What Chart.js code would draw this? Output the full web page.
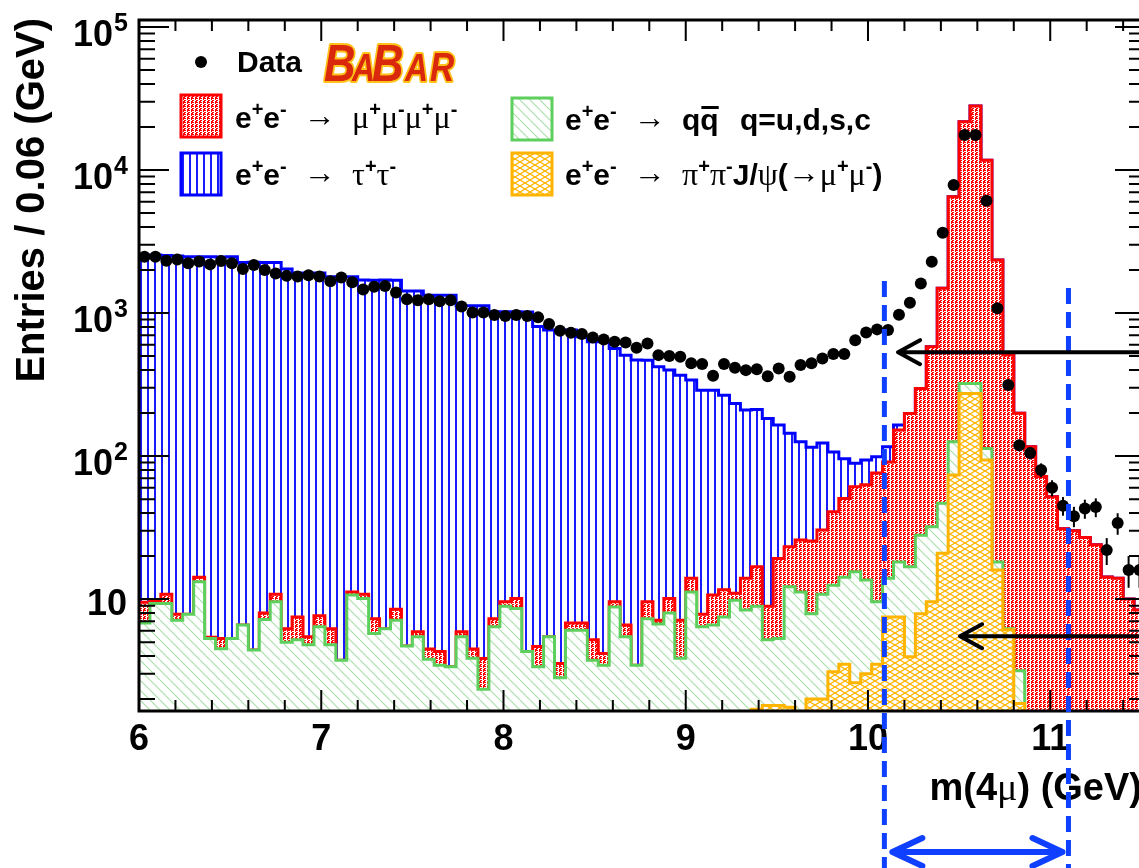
<!DOCTYPE html>
<html>
<head>
<meta charset="utf-8">
<title>m(4mu) BaBar</title>
<script src="https://cdn.jsdelivr.net/npm/chart.js@4.4.1/dist/chart.umd.min.js"></script>
<style>
  html, body { margin: 0; padding: 0; background: #fff; overflow: hidden; }
  #wrap { width: 1160px; height: 868px; }
</style>
</head>
<body>
<div id="wrap"><canvas id="chart" width="1160" height="868"></canvas></div>
<script>
// binning: 92 bins of 0.06 GeV starting at 6 GeV
const binStart = 6.0;
const binWidth = 0.06;

const dataCounts = [
  2480, 2480, 2320, 2370, 2230, 2290, 2190, 2310, 2230, 2030,
  2170, 2000, 1890, 1820, 1800, 1840, 1800, 1670, 1770, 1640,
  1460, 1530, 1545, 1390, 1250, 1230, 1250, 1210, 1230, 1110,
  1010, 1010, 970, 955, 968, 953, 933, 838, 752, 729,
  713, 676, 654, 630, 623, 572, 613, 508, 500, 495,
  445, 440, 364, 440, 415, 399, 404, 362, 410, 359,
  433, 445, 482, 517, 517, 645, 731, 769, 761, 972,
  1181, 1610, 2286, 3645, 7855, 17580, 17580, 6100, 1080, 314,
  119, 105, 80, 60, 45, 38, 43, 44, 22, 34,
  16, 16
];

const tauTau = [
  2535, 2535, 2520, 2500, 2470, 2460, 2470, 2465, 2470, 2250,
  2260, 2250, 2245, 2025, 1900, 1895, 1895, 1790, 1790, 1785,
  1690, 1690, 1695, 1690, 1420, 1420, 1330, 1330, 1330, 1120,
  1120, 1120, 1015, 1010, 1010, 1015, 800, 755, 757, 755,
  676, 625, 626, 556, 501, 466, 459, 414, 389, 361,
  326, 281, 278, 255, 222, 196, 195, 174, 146, 121,
  100, 90, 93, 66, 45, 28, 31, 23, 25, 13,
  0, 0, 0, 0, 0, 0, 0, 0, 0, 0,
  0, 0, 0, 0, 0, 0, 0, 0, 0, 0,
  0, 0
];

const fourMu = [
  2.7, 0.4, 1.5, 0.75, 0, 1.0, 0.1, 0.8, 0, 0,
  0, 0.8, 1.2, 1.2, 2.3, 0.65, 1.25, 1.4, 0, 0.5,
  0.7, 1.55, 0, 1.4, 0, 0.45, 0.67, 0.85, 0, 0.45,
  0.62, 1.5, 0.9, 0.7, 1.5, 0, 1.3, 0, 0.73, 0.75,
  0.75, 1.46, 0.72, 0.8, 1.15, 0, 2.3, 0.4, 2.1, 3.25,
  2.8, 1.45, 4.1, 4.1, 1.2, 5.6, 7.9, 3.7, 13.9, 11,
  14.7, 17.6, 19.6, 28.3, 36.4, 45.5, 49.4, 66.4, 77, 134,
  182, 269, 549, 1443, 6374, 21478, 27678, 11587, 2332, 502,
  196, 116, 72, 52, 31, 30, 27, 24, 14.3, 14,
  10, 8.4
];

const qqbar = [
  6.8, 9.3, 9.3, 7.1, 7.85, 13.2, 5.3, 4.5, 5.3, 6.6,
  4.4, 7.2, 9.6, 5.0, 5.2, 4.8, 6.4, 4.8, 3.74, 10.7,
  10.1, 5.75, 6.2, 7.1, 4.7, 5.45, 3.8, 3.45, 3.36, 5.45,
  3.85, 2.34, 6.4, 8.9, 8.6, 4.3, 3.36, 5.45, 2.82, 6.05,
  6.05, 3.74, 3.45, 8.8, 5.45, 3.45, 7.3, 6.7, 8.0, 3.85,
  11.2, 6.4, 6.6, 7.5, 9.8, 8.4, 7.2, 3.4, 3.5, 10.45,
  9.7, 5.9, 8.8, 9.4, 10.7, 12.9, 10.6, 6.1, 6.5, 10.7,
  12.85, 20.1, 22.4, 25.8, 52.4, 48, 48, 19, 2.2, 0.1,
  1.3, 0, 0, 0, 0, 0, 0, 0, 0, 0,
  0, 0
];

const jpsiPiPi = [
  0, 0, 0, 0, 0, 0, 0, 0, 0, 0,
  0, 0, 0, 0, 0, 0, 0, 0, 0, 0,
  0, 0, 0, 0, 0, 0, 0, 0, 0, 0,
  0, 0, 0, 0, 0, 0, 0, 0, 0, 0,
  0, 0, 0, 0, 0, 0, 0, 0, 0, 0,
  0, 0, 0, 0, 0, 0, 1.7, 1.8, 1.8, 1.75,
  1.5, 2.0, 2.0, 3.1, 3.5, 2.6, 3.0, 3.5, 7.5, 7.5,
  3.95, 7.9, 9.6, 20.9, 73.6, 274, 274, 94, 16, 6.1,
  1.86, 0, 0, 0, 0, 0, 0, 0, 0, 0,
  0, 0
];

const xTicks = [6, 7, 8, 9, 10, 11];
const yTicks = [10, 100, 1000, 10000, 100000];
const yTickExp = ['', '2', '3', '4', '5'];

// mass window and arrows (GeV / entries)
const windowLo = 10.09;
const windowHi = 11.10;
const arrowUpper = { x: 10.165, y: 533 };
const arrowLower = { x: 10.505, y: 5.5 };

const SANS = '"Liberation Sans", Arial, Helvetica, sans-serif';
const SERIF = '"Liberation Serif", "Times New Roman", serif';

function stack(...series) {
  return series[0].map((_, i) => series.reduce((s, a) => s + a[i], 0));
}

function histPoints(vals) {
  const pts = vals.map((v, i) => ({ x: binStart + binWidth * i, y: v > 0 ? v : 1e-3 }));
  const last = vals[vals.length - 1];
  pts.push({ x: binStart + binWidth * vals.length, y: last > 0 ? last : 1e-3 });
  return pts;
}

const cumJ = stack(jpsiPiPi);
const cumQ = stack(jpsiPiPi, qqbar);
const cumM = stack(jpsiPiPi, qqbar, fourMu);
const cumT = stack(jpsiPiPi, qqbar, fourMu, tauTau);

const ctx0 = document.getElementById('chart').getContext('2d');

function makePattern(w, h, draw) {
  const c = document.createElement('canvas');
  c.width = w; c.height = h;
  const g = c.getContext('2d');
  g.fillStyle = '#fff';
  g.fillRect(0, 0, w, h);
  draw(g, w, h);
  return ctx0.createPattern(c, 'repeat');
}

const patBlue = makePattern(7, 2, g => { g.fillStyle = '#1a1aff'; g.fillRect(0, 0, 2, 2); });
const patRed = makePattern(4, 4, g => {
  g.fillStyle = '#ff0000';
  g.fillRect(0, 0, 1, 3);
  g.fillRect(1, 0, 1, 1);
  g.fillRect(1, 2, 1, 1);
  g.fillRect(3, 1, 1, 3);
});
const patGreen = makePattern(10, 10, (g, w, h) => {
  g.strokeStyle = '#a8dea8'; g.lineWidth = 1.1;
  for (const x0 of [-w, 0, w]) { g.beginPath(); g.moveTo(x0, 0); g.lineTo(x0 + w, h); g.stroke(); }
});
const patOrange = makePattern(10, 6, (g, w, h) => {
  g.strokeStyle = '#ffb400'; g.lineWidth = 1.2;
  for (const x0 of [-w, 0, w]) {
    g.beginPath(); g.moveTo(x0, 0); g.lineTo(x0 + w, h); g.stroke();
    g.beginPath(); g.moveTo(x0, h); g.lineTo(x0 + w, 0); g.stroke();
  }
});

const colBlue = '#0000ff';
const colRed = '#ff0000';
const colGreen = '#5ccf5c';
const colOrange = '#ffb400';

function histDataset(label, vals, border, pattern, order) {
  return {
    label: label,
    data: histPoints(vals),
    stepped: true,
    borderColor: border,
    backgroundColor: pattern,
    borderWidth: 3,
    pointRadius: 0,
    fill: 'start',
    order: order
  };
}

// rich text: tokens of [text, font, dy]
function richWidth(ctx, tokens) {
  let w = 0;
  tokens.forEach(([t, f]) => { ctx.font = f; w += ctx.measureText(t).width; });
  return w;
}
function rich(ctx, x, y, tokens) {
  let cx = x;
  const marks = [];
  tokens.forEach(([t, f, dy]) => {
    ctx.font = f;
    marks.push(cx);
    ctx.fillText(t, cx, y + (dy || 0));
    cx += ctx.measureText(t).width;
  });
  return marks;
}

const N = 'bold 30px ' + SANS;
const S = 'bold 20px ' + SANS;
const G = '32px ' + SERIF;
const A = '32px ' + SERIF;
const eePlus = [['e', N], ['+', S, -12], ['e', N], ['-', S, -12], ['  ', N], ['\u2192', A, -2], ['  ', N]];

const rootPlugin = {
  id: 'rootStyle',
  beforeDatasetDraw(chart, args) {
    if (args.index !== 0) return;
    const { ctx, scales: { x, y } } = chart;
    ctx.save();
    ctx.strokeStyle = '#000';
    ctx.lineWidth = 2;
    dataCounts.forEach((n, i) => {
      const e = Math.sqrt(n);
      const px = x.getPixelForValue(binStart + binWidth * (i + 0.5));
      ctx.beginPath();
      ctx.moveTo(px, y.getPixelForValue(n + e));
      ctx.lineTo(px, y.getPixelForValue(Math.max(n - e, 1e-3)));
      ctx.stroke();
    });
    ctx.restore();
  },
  afterDatasetsDraw(chart) {
    const { ctx, chartArea: a, scales: { x, y } } = chart;
    ctx.save();
    ctx.strokeStyle = '#000';
    ctx.lineWidth = 2;
    // x ticks, bottom and top, pointing inward
    for (let k = 0; k <= 27; k++) {
      const v = binStart + 0.2 * k;
      const px = x.getPixelForValue(v);
      const len = k % 5 === 0 ? 21 : 11;
      ctx.beginPath();
      ctx.moveTo(px, a.bottom); ctx.lineTo(px, a.bottom - len);
      ctx.moveTo(px, a.top); ctx.lineTo(px, a.top + len);
      ctx.stroke();
    }
    // y ticks (log), left and right
    for (let d = 0; d <= 5; d++) {
      for (let m = 1; m <= 9; m++) {
        const v = m * Math.pow(10, d);
        if (v < y.min || v > y.max) continue;
        const py = y.getPixelForValue(v);
        const len = m === 1 ? 30 : 16;
        ctx.beginPath();
        ctx.moveTo(a.left, py); ctx.lineTo(a.left + len, py);
        ctx.moveTo(a.right, py); ctx.lineTo(a.right - len, py);
        ctx.stroke();
      }
    }
    ctx.lineWidth = 3;
    ctx.strokeRect(a.left, a.top, a.right - a.left, a.bottom - a.top);
    ctx.restore();
  },
  afterDraw(chart) {
    const { ctx, scales: { x, y } } = chart;
    ctx.save();
    ctx.fillStyle = '#000';
    ctx.textBaseline = 'alphabetic';

    // x tick labels
    ctx.font = 'bold 36px ' + SANS;
    ctx.textAlign = 'center';
    xTicks.forEach(t => ctx.fillText(String(t), x.getPixelForValue(t), 750));

    // y tick labels 10^n
    yTicks.forEach((t, i) => {
      const py = y.getPixelForValue(t);
      const ex = yTickExp[i];
      if (ex) {
        ctx.font = 'bold 25px ' + SANS;
        const sw = ctx.measureText(ex).width;
        ctx.textAlign = 'left';
        ctx.fillText(ex, 128 - sw, py + 4);
        ctx.font = 'bold 36px ' + SANS;
        ctx.textAlign = 'right';
        ctx.fillText('10', 128 - sw - 1, py + 19);
      } else {
        ctx.font = 'bold 36px ' + SANS;
        ctx.textAlign = 'right';
        ctx.fillText('10', 127, py + 16);
      }
    });

    // axis titles
    ctx.textAlign = 'left';
    const xt = [['m(4', 'bold 38px ' + SANS], ['\u03bc', '38px ' + SERIF], [') (GeV)', 'bold 38px ' + SANS]];
    rich(ctx, 1142 - richWidth(ctx, xt), 800, xt);

    ctx.save();
    ctx.translate(44, 18);
    ctx.rotate(-Math.PI / 2);
    ctx.textAlign = 'right';
    ctx.font = 'bold 40px ' + SANS;
    ctx.fillText('Entries / 0.06 (GeV)', 0, 0);
    ctx.restore();

    // legend
    ctx.textAlign = 'left';
    ctx.beginPath();
    ctx.arc(201, 62, 6, 0, Math.PI * 2);
    ctx.fill();
    ctx.font = N;
    ctx.fillText('Data', 237, 72);

    const box = (bx, by, pat, col) => {
      ctx.fillStyle = pat;
      ctx.fillRect(bx, by, 40, 42);
      ctx.strokeStyle = col;
      ctx.lineWidth = 3;
      ctx.strokeRect(bx, by, 40, 42);
      ctx.fillStyle = '#000';
    };
    box(181, 95, patRed, colRed);
    box(181, 153, patBlue, colBlue);
    box(512, 98, patGreen, colGreen);
    box(512, 153, patOrange, colOrange);

    rich(ctx, 235, 128, eePlus.concat([
      ['\u03bc', G], ['+', S, -12], ['\u03bc', G], ['-', S, -12],
      ['\u03bc', G], ['+', S, -12], ['\u03bc', G], ['-', S, -12]]));
    rich(ctx, 235, 185, eePlus.concat([
      ['\u03c4', G], ['+', S, -12], ['\u03c4', G], ['-', S, -12]]));
    const qm = rich(ctx, 565, 130, eePlus.concat([['q', N], ['q', N]]));
    ctx.font = N;
    const qx = qm[qm.length - 1];
    const qw = ctx.measureText('q').width;
    ctx.fillRect(qx + 1, 106, qw - 1, 3);
    ctx.fillText('q=u,d,s,c', 740, 130);
    rich(ctx, 565, 185, eePlus.concat([
      ['\u03c0', G], ['+', S, -12], ['\u03c0', G], ['-', S, -12],
      ['J/', N], ['\u03c8', G], ['(', N], ['\u2192', A, -2],
      ['\u03bc', G], ['+', S, -12], ['\u03bc', G], ['-', S, -12], [')', N]]));

    // BaBar logo
    const logo = [['B', 52, 324], ['A', 38, 352], ['B', 52, 372], ['A', 38, 405], ['R', 40, 430]];
    ctx.lineJoin = 'round';
    logo.forEach(([ch, sz, lx]) => {
      ctx.font = 'italic bold ' + sz + 'px ' + SANS;
      ctx.save();
      ctx.translate(lx, 81);
      ctx.scale(0.84, 1);
      ctx.strokeStyle = '#ffc21a';
      ctx.lineWidth = 4;
      ctx.strokeText(ch, 0, 0);
      ctx.restore();
    });
    logo.forEach(([ch, sz, lx]) => {
      ctx.font = 'italic bold ' + sz + 'px ' + SANS;
      ctx.save();
      ctx.translate(lx, 81);
      ctx.scale(0.84, 1);
      ctx.fillStyle = '#d9280c';
      ctx.fillText(ch, 0, 0);
      ctx.restore();
    });

    // mass window dashed lines
    const xl = x.getPixelForValue(windowLo);
    const xr = x.getPixelForValue(windowHi);
    ctx.strokeStyle = '#1040ff';
    ctx.lineWidth = 5;
    ctx.setLineDash([16, 8]);
    ctx.beginPath();
    ctx.moveTo(xl, 281); ctx.lineTo(xl, 868);
    ctx.moveTo(xr, 288); ctx.lineTo(xr, 868);
    ctx.stroke();
    ctx.setLineDash([]);

    // double arrow below axis
    ctx.lineWidth = 6;
    ctx.lineCap = 'round';
    ctx.beginPath();
    ctx.moveTo(xl + 8, 852); ctx.lineTo(xr - 6, 852);
    ctx.moveTo(xl + 38, 838); ctx.lineTo(xl + 8, 852); ctx.lineTo(xl + 38, 866);
    ctx.moveTo(xr - 36, 838); ctx.lineTo(xr - 6, 852); ctx.lineTo(xr - 36, 866);
    ctx.stroke();

    // black arrows pointing at the peak
    ctx.strokeStyle = '#000';
    ctx.lineWidth = 4;
    [arrowUpper, arrowLower].forEach(ar => {
      const tx = x.getPixelForValue(ar.x);
      const ty = y.getPixelForValue(ar.y);
      ctx.beginPath();
      ctx.moveTo(1170, ty); ctx.lineTo(tx, ty);
      ctx.moveTo(tx + 22, ty - 12); ctx.lineTo(tx, ty); ctx.lineTo(tx + 22, ty + 12);
      ctx.stroke();
    });
    ctx.restore();
  }
};

new Chart(ctx0, {
  type: 'line',
  data: {
    datasets: [
      {
        label: 'Data',
        data: dataCounts.map((n, i) => ({ x: binStart + binWidth * (i + 0.5), y: n })),
        showLine: false,
        pointRadius: 6,
        pointHoverRadius: 6,
        pointBackgroundColor: '#000',
        pointBorderColor: '#000',
        pointBorderWidth: 0,
        order: 0
      },
      histDataset('J/psi', cumJ, colOrange, patOrange, 1),
      histDataset('qq', cumQ, colGreen, patGreen, 2),
      histDataset('4mu', cumM, colRed, patRed, 3),
      histDataset('tautau', cumT, colBlue, patBlue, 4)
    ]
  },
  options: {
    responsive: false,
    animation: false,
    layout: { padding: { left: 139, top: 20, right: 15, bottom: 157 } },
    plugins: { legend: { display: false }, tooltip: { enabled: false } },
    scales: {
      x: { type: 'linear', min: 6, max: 11.52, display: false },
      y: { type: 'logarithmic', min: 1.65, max: 1.12e5, display: false }
    }
  },
  plugins: [rootPlugin]
});
</script>
</body>
</html>
